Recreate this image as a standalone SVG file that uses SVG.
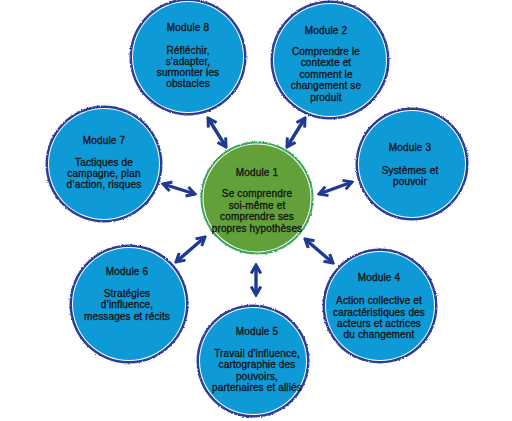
<svg xmlns="http://www.w3.org/2000/svg" width="512" height="421" viewBox="0 0 512 421">
<defs>
<style>
.ring{fill:#2B3C97}
.gap{fill:#fff}
.fill{fill:#0E9AD7}
.gring{fill:#3AA35B}
.gfill{fill:#62A13A}
.rough{filter:url(#rough)}
text{font-family:"Liberation Sans",Arial,sans-serif;font-size:10px;fill:#111;text-anchor:middle;stroke:#111;stroke-width:0.3;letter-spacing:0.15px}
.conn line{stroke:#1F3A92;stroke-width:3.4;marker-start:url(#ah);marker-end:url(#ah)}
</style>
<filter id="rough" x="-10%" y="-10%" width="120%" height="120%"><feTurbulence type="fractalNoise" baseFrequency="0.7" numOctaves="2" seed="3"/><feDisplacementMap in="SourceGraphic" scale="2.5" xChannelSelector="R" yChannelSelector="G"/></filter>
<marker id="ah" viewBox="0 0 10 10" refX="8.5" refY="5" markerWidth="12" markerHeight="12" markerUnits="userSpaceOnUse" orient="auto-start-reverse"><path d="M1.5,1 L8.5,5 L1.5,9" fill="none" stroke="#1F3A92" stroke-width="2.5"/></marker>
</defs>
<rect width="512" height="421" fill="#fff"/>
<g class="conn">
<line x1="208" y1="118" x2="226" y2="147"/>
<line x1="305" y1="118" x2="287" y2="147"/>
<line x1="163" y1="184" x2="195" y2="194"/>
<line x1="352" y1="182" x2="319" y2="194"/>
<line x1="205" y1="237" x2="176" y2="262"/>
<line x1="256" y1="265" x2="256" y2="295"/>
<line x1="305" y1="239" x2="333" y2="263"/>
</g>
<g id="module8">
<circle class="ring rough" cx="188" cy="57" r="58.5"/><circle class="gap" cx="188" cy="57" r="56"/><circle class="fill" cx="188" cy="57" r="55"/>
<text x="188" y="30.5">Module 8</text>
<text x="188" y="53.5">Réfléchir,</text>
<text x="188" y="64.5">s'adapter,</text>
<text x="188" y="75.5">surmonter les</text>
<text x="188" y="86.5">obstacles</text>
</g>
<g id="module2">
<circle class="ring rough" cx="330" cy="60" r="59.5"/><circle class="gap" cx="330" cy="60" r="57"/><circle class="fill" cx="330" cy="60" r="56"/>
<text x="326" y="33.5">Module 2</text>
<text x="326" y="54.5">Comprendre le</text>
<text x="326" y="66">contexte et</text>
<text x="326" y="77.5">comment le</text>
<text x="326" y="89">changement se</text>
<text x="326" y="100.5">produit</text>
</g>
<g id="module3">
<circle class="ring rough" cx="412" cy="164" r="56.5"/><circle class="gap" cx="412" cy="164" r="54"/><circle class="fill" cx="412" cy="164" r="53"/>
<text x="410" y="150.5">Module 3</text>
<text x="410" y="173.5">Systèmes et</text>
<text x="410" y="184.5">pouvoir</text>
</g>
<g id="module7">
<circle class="ring rough" cx="104" cy="164" r="58.5"/><circle class="gap" cx="104" cy="164" r="56"/><circle class="fill" cx="104" cy="164" r="55"/>
<text x="104" y="143.5">Module 7</text>
<text x="104" y="165.5">Tactiques de</text>
<text x="104" y="176.5">campagne, plan</text>
<text x="104" y="188">d’action, risques</text>
</g>
<g id="module1">
<circle class="gring rough" cx="257" cy="198" r="56.5"/><circle class="gap" cx="257" cy="198" r="54.5"/><circle class="gfill" cx="257" cy="198" r="53.5"/>
<text x="257" y="176">Module 1</text>
<text x="257" y="197">Se comprendre</text>
<text x="257" y="208.5">soi-même et</text>
<text x="257" y="220">comprendre ses</text>
<text x="257" y="231.5">propres hypothèses</text>
</g>
<g id="module6">
<circle class="ring rough" cx="129" cy="304" r="59.5"/><circle class="gap" cx="129" cy="304" r="57"/><circle class="fill" cx="129" cy="304" r="56"/>
<text x="127" y="274.5">Module 6</text>
<text x="127" y="296.5">Stratégies</text>
<text x="127" y="308">d’influence,</text>
<text x="127" y="319.5">messages et récits</text>
</g>
<g id="module5">
<circle class="ring rough" cx="253" cy="361" r="56.5"/><circle class="gap" cx="253" cy="361" r="54"/><circle class="fill" cx="253" cy="361" r="53"/>
<text x="257" y="334.5">Module 5</text>
<text x="257" y="356.5">Travail d'influence,</text>
<text x="257" y="368">cartographie des</text>
<text x="257" y="379.5">pouvoirs,</text>
<text x="257" y="390.5">partenaires et alliés</text>
</g>
<g id="module4">
<circle class="ring rough" cx="380" cy="306" r="57.5"/><circle class="gap" cx="380" cy="306" r="55"/><circle class="fill" cx="380" cy="306" r="54"/>
<text x="379" y="281">Module 4</text>
<text x="379" y="304">Action collective et</text>
<text x="379" y="315.5">caractéristiques des</text>
<text x="379" y="326.5">acteurs et actrices</text>
<text x="379" y="337.5">du changement</text>
</g>
</svg>
